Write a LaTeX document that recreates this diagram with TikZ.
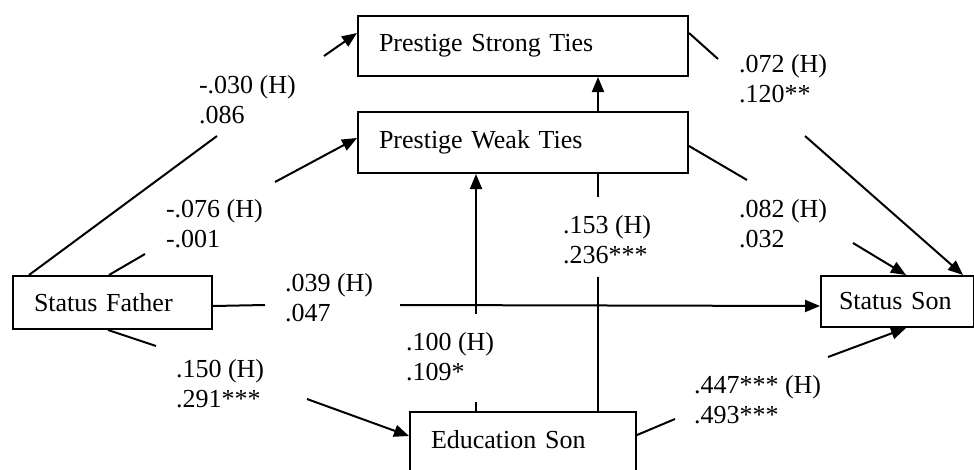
\documentclass[tikz,border=0pt]{standalone}
\usepackage{fontspec}
\setmainfont{Liberation Serif}
\usetikzlibrary{arrows.meta}

\begin{document}
\begin{tikzpicture}[x=1pt, y=-1pt, line width=2pt, >={Triangle[length=15pt,width=12pt]},
  every node/.style={font=\fontsize{26}{30}\selectfont},
  box/.style={draw, anchor=north west, inner xsep=21pt, align=left},
  lbl/.style={anchor=base west, align=left, inner sep=0pt}]
\useasboundingbox (0,0) rectangle (974,469);
% boxes
\node[box, text width=288pt, minimum height=60pt] (strong) at (357,15) {Prestige Strong Ties};
\node[box, text width=288pt, minimum height=61pt] (weak) at (357,111) {Prestige Weak Ties};
\node[box, text width=157pt, minimum height=53pt] (father) at (12,275) {Status Father};
\node[box, inner xsep=18pt, text width=117pt, minimum height=51pt] (son) at (820,275) {Status Son};
\node[box, text width=184pt, text depth=10pt, minimum height=64pt] (edu) at (409,411) {Education Son};
% coefficients (anchored at the second line)
\node[lbl] (l1) at (198,123) {-.030 (H)\\.086};
\node[lbl] (l2) at (165,247) {-.076 (H)\\-.001};
\node[lbl] (l3) at (284,321) {.039 (H)\\.047};
\node[lbl] (l4) at (175,407) {.150 (H)\\.291***};
\node[lbl] (l5) at (405,380) {.100 (H)\\.109*};
\node[lbl] (l6) at (562,263) {.153 (H)\\.236***};
\node[lbl] (l7) at (738,102) {.072 (H)\\.120**};
\node[lbl] (l8) at (738,247) {.082 (H)\\.032};
\node[lbl] (l9) at (693,423) {.447*** (H)\\.493***};
% gap ends
\coordinate (a1) at (217,136); \coordinate (a2) at (324,56);
\coordinate (b1) at (145,254); \coordinate (b2) at (275,182);
\coordinate (c1) at (265,305); \coordinate (c2) at (400,305);
\coordinate (d1) at (156,346); \coordinate (d2) at (307,399);
\coordinate (e1) at (476,402); \coordinate (e2) at (476,314);
\coordinate (f1) at (598,277); \coordinate (f2) at (598,197);
\coordinate (g1) at (718,59);  \coordinate (g2) at (805,136);
\coordinate (h1) at (747,180); \coordinate (h2) at (853,243);
\coordinate (k1) at (675,419); \coordinate (k2) at (828,357);
% paths
\draw ([xshift=17pt]father.north west) -- (a1);
\draw[->] (a2) -- ([yshift=13pt]strong.west);
\draw ([xshift=97pt]father.north west) -- (b1);
\draw[->] (b2) -- ([yshift=4.5pt]weak.west);
\draw ([yshift=-3.5pt]father.east) -- (c1);
\draw[->] (c2) -- ([yshift=-4.5pt]son.west);
\draw ([xshift=96pt]father.south west) -- (d1);
\draw[->] (d2) -- ([yshift=-25pt]edu.north west);
\draw ([xshift=67pt]edu.north west) -- (e1);
\draw[->] (e2) -- ([xshift=119pt]weak.south west);
\draw ([xshift=189pt]edu.north west) -- (f1);
\draw (f2) -- ([xshift=241pt]weak.south west);
\draw[->] ([xshift=241pt]weak.north west) -- ([xshift=241pt]strong.south west);
\draw ([yshift=13pt]strong.east) -- (g1);
\draw[->] (g2) -- ([xshift=143pt]son.north west);
\draw ([yshift=-3.5pt]weak.east) -- (h1);
\draw[->] (h2) -- ([xshift=86pt]son.north west);
\draw ([yshift=-24pt]edu.north east) -- (k1);
\draw[->] (k2) -- ([xshift=86pt]son.south west);
\end{tikzpicture}
\end{document}
